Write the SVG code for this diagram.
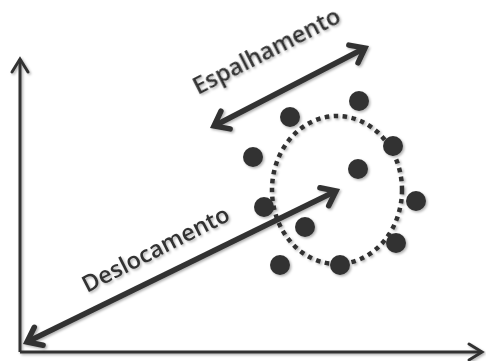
<svg xmlns="http://www.w3.org/2000/svg" width="486" height="361" viewBox="0 0 486 361">
  <style>
    .axis { fill: none; stroke: #333; stroke-width: 3; }
    .big { fill: none; stroke: #333; stroke-width: 5.5; }
    .dot { fill: #333; }
    .lbl { font-family: "Open Sans", "Liberation Sans", sans-serif; font-weight: 600; font-size: 23px; fill: #333; }
  </style>
  <defs>
    <filter id="sh" x="-10%" y="-10%" width="130%" height="130%">
      <feDropShadow dx="1.5" dy="1.5" stdDeviation="1.2" flood-color="#000" flood-opacity="0.3"/>
    </filter>
    <marker id="ah" markerUnits="userSpaceOnUse" viewBox="-20 -15 24 30" refX="0" refY="0" markerWidth="24" markerHeight="30" orient="auto-start-reverse" overflow="visible">
      <path d="M -13 -10 L 0 0 L -13 10" fill="none" stroke="#333" stroke-width="5.5" stroke-linecap="round" stroke-linejoin="miter"/>
    </marker>
    <marker id="axh" markerUnits="userSpaceOnUse" viewBox="-14 -10 16 20" refX="0" refY="0" markerWidth="16" markerHeight="20" orient="auto" overflow="visible">
      <path d="M -13 -8 L 0 0 L -13 8" fill="none" stroke="#333" stroke-width="3" stroke-linecap="round"/>
    </marker>
  </defs>
  <rect width="486" height="361" fill="#fff"/>
  <g id="axes" filter="url(#sh)">
    <path id="y-axis" class="axis" d="M 20 352 L 20 59" marker-end="url(#axh)"/>
    <path id="x-axis" class="axis" d="M 20 352 L 482 352" marker-end="url(#axh)"/>
  </g>
  <g id="cluster" filter="url(#sh)">
    <ellipse id="spread-ring" cx="337" cy="190" rx="65" ry="74" fill="none" stroke="#333" stroke-width="4.5" stroke-dasharray="4.5 4.5"/>
    <g id="points">
      <circle class="dot" cx="359" cy="101" r="10"/>
      <circle class="dot" cx="290" cy="117" r="10"/>
      <circle class="dot" cx="393" cy="146" r="10"/>
      <circle class="dot" cx="253" cy="157" r="10"/>
      <circle class="dot" cx="358" cy="169" r="10"/>
      <circle class="dot" cx="416" cy="201" r="10"/>
      <circle class="dot" cx="264" cy="207" r="10"/>
      <circle class="dot" cx="305" cy="227" r="10"/>
      <circle class="dot" cx="396" cy="243" r="10"/>
      <circle class="dot" cx="280" cy="265" r="10"/>
      <circle class="dot" cx="340" cy="265" r="10"/>
    </g>
  </g>
  <g id="connectors" filter="url(#sh)">
    <path id="deslocamento-arrow" class="big" d="M 27 342 L 336 191" marker-start="url(#ah)" marker-end="url(#ah)"/>
    <path id="espalhamento-arrow" class="big" d="M 214 126 L 365 48" marker-start="url(#ah)" marker-end="url(#ah)"/>
  </g>
  <g id="labels" filter="url(#sh)">
    <text id="deslocamento-label" class="lbl" transform="translate(87 293) rotate(-27)" textLength="162" lengthAdjust="spacingAndGlyphs">Deslocamento</text>
    <text id="espalhamento-label" class="lbl" transform="translate(198 95) rotate(-27)" textLength="162" lengthAdjust="spacingAndGlyphs">Espalhamento</text>
  </g>
</svg>
